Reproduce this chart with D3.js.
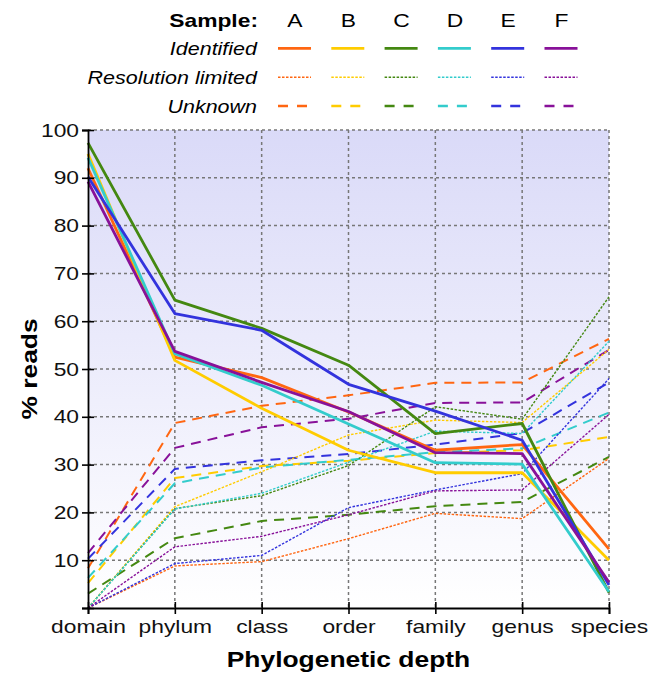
<!DOCTYPE html>
<html>
<head>
<meta charset="utf-8">
<script src="https://cdn.jsdelivr.net/npm/d3@7"></script>
<style>
  body { margin: 0; background: #fff; }
  svg { display: block; font-family: "Liberation Sans", Arial, sans-serif; }
</style>
</head>
<body>
<div id="chart"></div>
<script>
// Phylogenetic depth chart

const depths = ["domain", "phylum", "class", "order", "family", "genus", "species"];
const samples = ["A", "B", "C", "D", "E", "F"];
const sampleColors = ["#ff6611", "#ffcc00", "#448811", "#33cccc", "#3333dd", "#881199"];
const yTicks = [0, 10, 20, 30, 40, 50, 60, 70, 80, 90, 100];

// % reads per sample (A..F) at each depth
const identified = [
  [92.0, 52.5, 48.2, 41.0, 33.0, 34.2, 12.3],
  [95.0, 51.8, 41.8, 33.0, 28.3, 28.3, 10.0],
  [97.3, 64.4, 58.5, 50.8, 36.5, 38.6, 3.2],
  [94.2, 53.2, 46.6, 38.5, 30.4, 30.1, 3.4],
  [90.2, 61.6, 58.1, 46.8, 41.2, 35.1, 4.8],
  [89.2, 53.7, 47.2, 41.1, 32.5, 32.3, 5.4]
];
const resolutionLimited = [
  [0, 8.8, 9.7, 14.5, 19.8, 18.7, 31.3],
  [0, 21.2, 28.5, 36.2, 39.3, 38.8, 54.1],
  [0, 20.8, 23.5, 29.8, 42.1, 39.5, 65.1],
  [0, 20.7, 24.0, 30.5, 37.0, 36.5, 55.8],
  [0, 9.3, 11.0, 21.0, 24.7, 28.1, 48.0],
  [0, 12.8, 15.0, 19.5, 24.5, 24.7, 40.5]
];
const unknown = [
  [8.3, 38.7, 42.3, 44.5, 47.1, 47.2, 56.3],
  [5.2, 27.2, 29.7, 30.8, 32.4, 33.0, 35.8],
  [3.0, 14.6, 18.2, 19.5, 21.3, 22.2, 31.6],
  [6.3, 26.1, 29.4, 31.0, 32.6, 33.4, 40.9],
  [10.3, 29.1, 30.9, 32.2, 34.2, 36.6, 47.2],
  [11.5, 33.5, 37.8, 39.6, 42.9, 43.0, 54.0]
];

const categories = [
  { name: "Identified", data: identified, width: 2.8, dash: null },
  { name: "Resolution limited", data: resolutionLimited, width: 1.4, dash: "2.5,1.5" },
  { name: "Unknown", data: unknown, width: 2, dash: "10,7" }
];

const width = 663, height = 675;
const margin = { top: 130, right: 54, bottom: 67, left: 88 };

const svg = d3.select("#chart").append("svg")
  .attr("width", width)
  .attr("height", height);

const x = d3.scalePoint().domain(depths).range([margin.left, width - margin.right]);
const y = d3.scaleLinear().domain([0, 100]).range([height - margin.bottom, margin.top]);

// background gradient
const grad = svg.append("defs").append("linearGradient")
  .attr("id", "bg").attr("x1", 0).attr("y1", 0).attr("x2", 0).attr("y2", 1);
grad.append("stop").attr("offset", "0%").attr("stop-color", "#dadaf8");
grad.append("stop").attr("offset", "100%").attr("stop-color", "#ffffff");

svg.append("rect")
  .attr("x", x.range()[0]).attr("y", y(100))
  .attr("width", x.range()[1] - x.range()[0])
  .attr("height", y(0) - y(100))
  .attr("fill", "url(#bg)");

// grid
const grid = svg.append("g")
  .attr("stroke", "#777").attr("stroke-width", 1.5).attr("stroke-dasharray", "3,3");
grid.selectAll("line.h").data(yTicks.filter(d => d > 0)).enter().append("line")
  .attr("x1", x.range()[0]).attr("x2", x.range()[1])
  .attr("y1", d => y(d)).attr("y2", d => y(d));
grid.selectAll("line.v").data(depths.slice(1)).enter().append("line")
  .attr("x1", d => x(d)).attr("x2", d => x(d))
  .attr("y1", y(100)).attr("y2", y(0));

// lines: unknown and resolution limited below, identified on top
const line = d3.line().x((d, i) => x(depths[i])).y(d => y(d));
const drawOrder = [categories[2], categories[1], categories[0]];
drawOrder.forEach(cat => {
  const g = svg.append("g").attr("fill", "none");
  cat.data.forEach((vals, s) => {
    g.append("path")
      .attr("d", line(vals))
      .attr("stroke", sampleColors[s])
      .attr("stroke-width", cat.width)
      .attr("stroke-dasharray", cat.dash)
      .attr("stroke-linejoin", "round");
  });
});

// axes
const yAxis = svg.append("g")
  .attr("transform", `translate(${margin.left},0)`)
  .call(d3.axisLeft(y).tickValues(yTicks).tickFormat(d => d === 0 ? "" : d).tickSize(6).tickPadding(3));
yAxis.selectAll(".tick line").attr("x1", 6);
yAxis.selectAll("text").style("font-size", "19px").attr("fill", "#111");

const xAxis = svg.append("g")
  .attr("transform", `translate(0,${height - margin.bottom})`)
  .call(d3.axisBottom(x).tickSize(6).tickPadding(6));
xAxis.selectAll(".tick line").attr("y1", -6);
xAxis.selectAll("text").style("font-size", "19px").attr("fill", "#111");
svg.selectAll(".domain").attr("stroke-width", 1.8);
svg.selectAll(".tick line").attr("stroke-width", 1.6);

// axis titles
svg.append("text")
  .attr("x", (x.range()[0] + x.range()[1]) / 2)
  .attr("y", 667)
  .attr("text-anchor", "middle")
  .style("font-size", "22px").style("font-weight", "bold")
  .text("Phylogenetic depth");

svg.append("text")
  .attr("transform", `translate(37,${(y(0) + y(100)) / 2}) rotate(-90)`)
  .attr("text-anchor", "middle")
  .style("font-size", "22px").style("font-weight", "bold")
  .text("% reads");

// legend
const legend = svg.append("g");
const colX = s => 295 + s * 53.3;
const rowY = [48.3, 77.3, 106];

legend.append("text")
  .attr("x", 258).attr("y", 27)
  .attr("text-anchor", "end")
  .style("font-size", "19px").style("font-weight", "bold")
  .text("Sample:");

samples.forEach((s, i) => {
  legend.append("text")
    .attr("x", colX(i)).attr("y", 27)
    .attr("text-anchor", "middle")
    .style("font-size", "19px")
    .text(s);
});

categories.forEach((cat, r) => {
  legend.append("text")
    .attr("class", "rowlabel")
    .attr("x", 257).attr("y", rowY[r] + 6.8)
    .attr("text-anchor", "end")
    .style("font-size", "19px").style("font-style", "italic")
    .text(cat.name);
  samples.forEach((s, i) => {
    legend.append("line")
      .attr("x1", colX(i) - 17).attr("x2", colX(i) + 16)
      .attr("y1", rowY[r]).attr("y2", rowY[r])
      .attr("stroke", sampleColors[i])
      .attr("stroke-width", r === 0 ? 2.8 : (r === 1 ? 1.4 : 2.4))
      .attr("stroke-dasharray", r === 0 ? null : (r === 1 ? "2.5,1.5" : "10,9"));
  });
});

// stretch text horizontally a bit, like the original rendering
svg.selectAll("text").each(function() {
  const w = this.getComputedTextLength();
  const k = this.classList.contains("rowlabel") ? 1.13 : 1.2;
  if (w > 0) {
    this.setAttribute("textLength", w * k);
    this.setAttribute("lengthAdjust", "spacingAndGlyphs");
  }
});
</script>
</body>
</html>
